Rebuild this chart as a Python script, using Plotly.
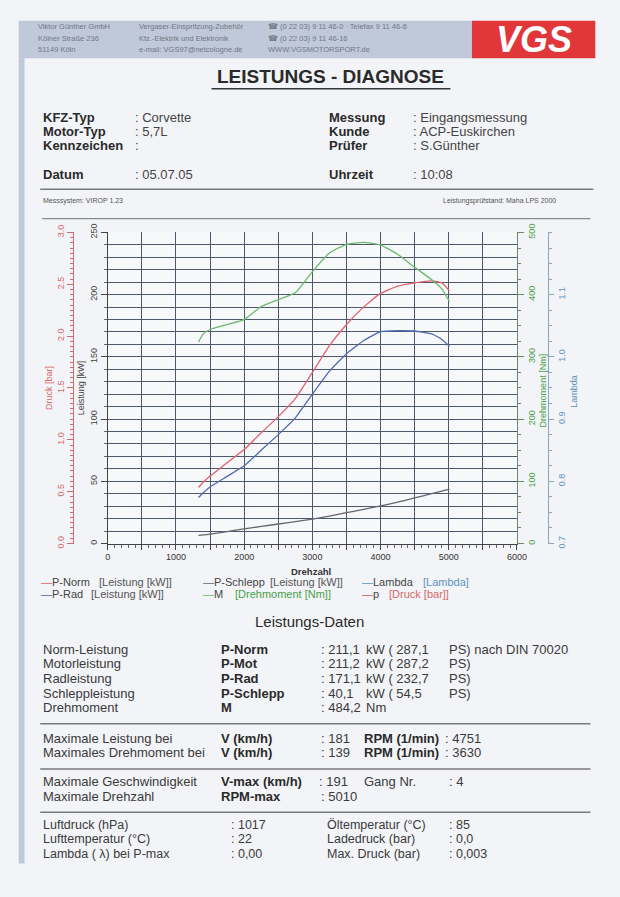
import plotly.graph_objects as go

W, H = 620, 897
FONT = "Liberation Sans, Arial, sans-serif"


def px(x):
    return x / W


def py(y):
    return 1 - y / H


# ---------------- data ----------------
rpm = [1330, 1400, 1500, 1750, 2000, 2250, 2500, 2750, 3000, 3250,
       3500, 3750, 4000, 4250, 4500, 4750, 4900, 5010]
p_norm = [45.0, 49.2, 54.2, 65.0, 75.5, 89.0, 102.0, 116.5, 137.5, 159.0,
          176.0, 190.0, 201.0, 206.8, 209.5, 211.1, 209.5, 203.0]
p_rad = [37.0, 40.8, 45.5, 54.0, 62.5, 75.0, 87.5, 101.0, 120.0, 138.5,
         152.5, 163.0, 170.3, 171.1, 170.8, 168.5, 164.0, 158.5]
p_schlepp = [6.5, 6.9, 7.5, 9.6, 11.8, 13.7, 15.7, 17.6, 19.6, 22.1,
             24.8, 27.4, 30.2, 33.3, 36.6, 40.1, 42.2, 43.5]
torque = [324, 337, 344, 352, 360, 381, 392, 403, 437, 467,
          481, 484, 480, 465, 444, 424, 409, 389]

x_tickvals = [0, 500, 1000, 1500, 2000, 2500, 3000, 3500, 4000, 4500, 5000, 5500, 6000]
x_ticktext = ["0", "", "1000", "", "2000", "", "3000", "", "4000", "", "5000", "", "6000"]
kw_ticks = [0, 50, 100, 150, 200, 250]
bar_ticks = [0.0, 0.5, 1.0, 1.5, 2.0, 2.5, 3.0]
bar_labels = ["0.0", "0.5", "1.0", "1.5", "2.0", "2.5", "3.0"]
nm_ticks = [0, 100, 200, 300, 400, 500]
lambda_ticks = [0.7, 0.8, 0.9, 1.0, 1.1]
lambda_labels = ["0.7", "0.8", "0.9", "1.0", "1.1"]

# ---------------- colours ----------------
C_NORM = "#e2626c"
C_RAD = "#4f69ae"
C_SCHLEPP = "#66666e"
C_M = "#6cba6c"
C_LAMBDA = "#5b93c0"
C_P = "#d8575c"
C_AXRED = "#d46a6a"
C_AXGREEN = "#48a048"
C_AXBLUE = "#5b93c0"
GRID = "#4e586c"
TXT = "#333333"
BAR = "#bfc9d9"

fig = go.Figure()
line_common = dict(width=1.3, shape="spline", smoothing=0.4)
fig.add_trace(go.Scatter(x=rpm, y=p_schlepp, mode="lines", yaxis="y",
                         line=dict(color=C_SCHLEPP, **line_common), hoverinfo="skip", showlegend=False))
fig.add_trace(go.Scatter(x=rpm, y=torque, mode="lines", yaxis="y3",
                         line=dict(color=C_M, **line_common), hoverinfo="skip", showlegend=False))
fig.add_trace(go.Scatter(x=rpm, y=p_rad, mode="lines", yaxis="y",
                         line=dict(color=C_RAD, **line_common), hoverinfo="skip", showlegend=False))
fig.add_trace(go.Scatter(x=rpm, y=p_norm, mode="lines", yaxis="y",
                         line=dict(color=C_NORM, **line_common), hoverinfo="skip", showlegend=False))
# placeholders so the pressure and lambda axes are drawn
fig.add_trace(go.Scatter(x=[None], y=[None], yaxis="y2", showlegend=False, hoverinfo="skip"))
fig.add_trace(go.Scatter(x=[None], y=[None], yaxis="y4", showlegend=False, hoverinfo="skip"))

shapes = []
ann = []


def rect(x0, y0, x1, y1, color):
    shapes.append(dict(type="rect", xref="paper", yref="paper", x0=px(x0), x1=px(x1),
                       y0=py(y1), y1=py(y0), fillcolor=color, line=dict(width=0), layer="below"))


def hline(y, x0, x1, color="#7a7a7a", width=1.5):
    shapes.append(dict(type="line", xref="paper", yref="paper", x0=px(x0), x1=px(x1),
                       y0=py(y), y1=py(y), line=dict(color=color, width=width)))


def txt(x, y, s, size=13, color=TXT, bold=False, anchor="left", angle=0, italic=False):
    if bold:
        s = "<b>%s</b>" % s
    if italic:
        s = "<i>%s</i>" % s
    ann.append(dict(x=px(x), y=py(y), xref="paper", yref="paper", text=s, showarrow=False,
                    xanchor=anchor, yanchor="middle", textangle=angle, borderpad=0,
                    font=dict(size=size, color=color, family=FONT)))


# ---------------- header ----------------
rect(16, 12, 480, 50, BAR)
rect(16, 50, 22, 868, BAR)
rect(479, 12, 605, 50, "#e2373a")
txt(542, 31, "VGS", size=36, color="#ffffff", bold=True, italic=True, anchor="center")

HC = "#737784"
for i, s in enumerate(["Viktor Günther GmbH", "Kölner Straße 236", "51149 Köln"]):
    txt(35, 18 + 11.5 * i, s, size=7.5, color=HC)
for i, s in enumerate(["Vergaser-Einspritzung-Zubehör", "Kfz.-Elektrik und Elektronik",
                       "e-mail: VGS97@netcologne.de"]):
    txt(138, 18 + 11.5 * i, s, size=7.5, color=HC)
for i, s in enumerate(["☎ (0 22 03) 9 11 46-0 · Telefax 9 11 46-6", "☎ (0 22 03) 9 11 46-16",
                       "WWW.VGSMOTORSPORT.de"]):
    txt(270, 18 + 11.5 * i, s, size=7.5, color=HC)

txt(335, 69, "LEISTUNGS - DIAGNOSE", size=19, color="#2a2a2a", bold=True, anchor="center")
hline(81, 213, 457, color="#333333", width=1.5)

# ---------------- info block ----------------
info_left = [("KFZ-Typ", ": Corvette", 110), ("Motor-Typ", ": 5,7L", 124),
             ("Kennzeichen", ":", 139), ("Datum", ": 05.07.05", 168)]
info_right = [("Messung", ": Eingangsmessung", 110), ("Kunde", ": ACP-Euskirchen", 124),
              ("Prüfer", ": S.Günther", 139), ("Uhrzeit", ": 10:08", 168)]
for lab, val, y in info_left:
    txt(40, y, lab, size=13, color="#2a2a2a", bold=True)
    txt(134, y, val, size=13, color="#444444")
for lab, val, y in info_right:
    txt(332, y, lab, size=13, color="#2a2a2a", bold=True)
    txt(418, y, val, size=13, color="#444444")
hline(183, 38, 603)
txt(40, 195, "Messsystem: VIROP 1.23", size=7, color="#555")
txt(566, 195, "Leistungsprüfstand: Maha LPS 2000", size=7, color="#555", anchor="right")
hline(213, 40, 600, color="#8a8a8a", width=1.2)

# ---------------- axis titles ----------------
txt(47, 385, "Druck [bar]", size=9, color=C_AXRED, anchor="center", angle=-90)
txt(80, 385, "Leistung [kW]", size=9, color="#444", anchor="center", angle=-90)
txt(552, 387, "Drehmoment [Nm]", size=9, color=C_AXGREEN, anchor="center", angle=-90)
txt(583, 388, "Lambda", size=9, color=C_AXBLUE, anchor="center", angle=-90)
txt(315, 571, "Drehzahl", size=9.5, color="#333", bold=True, anchor="center")


# ---------------- legend ----------------
def leg(x, y, color, name, bx, bracket, bcolor):
    txt(x, y, "<span style='color:%s'>—</span>%s" % (color, name), size=11, color="#444")
    txt(bx, y, bracket, size=11, color=bcolor)


leg(38, 582, C_NORM, "P-Norm", 97, "[Leistung [kW]]", "#555")
leg(38, 594, C_RAD, "P-Rad", 89, "[Leistung [kW]]", "#555")
leg(203, 582, C_SCHLEPP, "P-Schlepp", 272, "[Leistung [kW]]", "#555")
leg(203, 594, C_M, "M", 236, "[Drehmoment [Nm]]", C_AXGREEN)
leg(366, 582, C_LAMBDA, "Lambda", 428, "[Lambda]", C_AXBLUE)
leg(366, 594, C_P, "p", 393, "[Druck [bar]]", C_AXRED)

# ---------------- data table ----------------
txt(313, 622, "Leistungs-Daten", size=15, color="#2a2a2a", anchor="center")
rows = [("Norm-Leistung", "P-Norm", "211,1", "287,1", " nach DIN 70020", 651),
        ("Motorleistung", "P-Mot", "211,2", "287,2", "", 665),
        ("Radleistung", "P-Rad", "171,1", "232,7", "", 680),
        ("Schleppleistung", "P-Schlepp", "40,1", "54,5", "", 695)]
for lab, sym, kw, ps, extra, y in rows:
    txt(40, y, lab, color="#3a3a3a")
    txt(222, y, sym, color="#2a2a2a", bold=True)
    txt(324, y, ": " + kw, color="#3a3a3a")
    txt(370, y, "kW ( " + ps, color="#3a3a3a")
    txt(455, y, "PS)" + extra, color="#3a3a3a")
txt(40, 710, "Drehmoment", color="#3a3a3a")
txt(222, 710, "M", color="#2a2a2a", bold=True)
txt(324, 710, ": 484,2", color="#3a3a3a")
txt(370, 710, "Nm", color="#3a3a3a")
hline(726, 38, 600)

txt(40, 741, "Maximale Leistung bei", color="#3a3a3a")
txt(222, 741, "V (km/h)", color="#2a2a2a", bold=True)
txt(324, 741, ": 181", color="#3a3a3a")
txt(368, 741, "RPM (1/min)", color="#2a2a2a", bold=True)
txt(450, 741, ": 4751", color="#3a3a3a")
txt(40, 755, "Maximales Drehmoment bei", color="#3a3a3a")
txt(222, 755, "V (km/h)", color="#2a2a2a", bold=True)
txt(324, 755, ": 139", color="#3a3a3a")
txt(368, 755, "RPM (1/min)", color="#2a2a2a", bold=True)
txt(450, 755, ": 3630", color="#3a3a3a")
hline(772, 38, 600)

txt(40, 785, "Maximale Geschwindigkeit", color="#3a3a3a")
txt(222, 785, "V-max (km/h)", color="#2a2a2a", bold=True)
txt(322, 785, ": 191", color="#3a3a3a")
txt(368, 785, "Gang Nr.", color="#3a3a3a")
txt(455, 785, ": 4", color="#3a3a3a")
txt(40, 800, "Maximale Drehzahl", color="#3a3a3a")
txt(222, 800, "RPM-max", color="#2a2a2a", bold=True)
txt(324, 800, ": 5010", color="#3a3a3a")
hline(816, 38, 600)

bottom = [("Luftdruck (hPa)", ": 1017", "Öltemperatur (°C)", ": 85", 829),
          ("Lufttemperatur (°C)", ": 22", "Ladedruck (bar)", ": 0,0", 843),
          ("Lambda ( λ) bei P-max", ": 0,00", "Max. Druck (bar)", ": 0,003", 858)]
for a, b, c, d, y in bottom:
    txt(40, y, a, size=12.5, color="#3a3a3a")
    txt(232, y, b, size=12.5, color="#3a3a3a")
    txt(330, y, c, size=12.5, color="#3a3a3a")
    txt(455, y, d, size=12.5, color="#3a3a3a")

tickfont = dict(size=9, family=FONT)
fig.update_layout(
    width=W, height=H, autosize=False,
    margin=dict(l=0, r=0, t=0, b=0),
    paper_bgcolor="#f3f4f7", plot_bgcolor="#f7f8fa",
    font=dict(family=FONT, color=TXT),
    shapes=shapes, annotations=ann,
    xaxis=dict(domain=[px(107), px(525)], range=[0, 6000], tickmode="array",
               tickvals=x_tickvals, ticktext=x_ticktext, showgrid=True, gridcolor=GRID,
               gridwidth=1, showline=True, linecolor="#444", linewidth=1, ticks="outside",
               ticklen=5, tickcolor="#444", tickfont=dict(color="#333", **tickfont),
               minor=dict(dtick=100, tick0=0, ticks="outside", ticklen=3, tickcolor="#666",
                          showgrid=False),
               zeroline=False, fixedrange=True),
    yaxis=dict(domain=[py(543), py(227)], range=[0, 250], tickmode="array", tickvals=kw_ticks,
               tickangle=-90, showgrid=True, gridcolor=GRID, gridwidth=1.3,
               showline=True, linecolor="#444", linewidth=1, ticks="outside", ticklen=6,
               tickcolor="#444", tickfont=dict(color="#444", **tickfont),
               minor=dict(dtick=10, tick0=0, ticks="outside", ticklen=3, tickcolor="#666",
                          showgrid=True, gridcolor=GRID, gridwidth=1.3),
               zeroline=False, fixedrange=True),
    yaxis2=dict(overlaying="y", anchor="free", position=px(72), side="left", range=[0, 3],
                tickmode="array", tickvals=bar_ticks, ticktext=bar_labels, tickangle=-90,
                showgrid=False, showline=True, linecolor=C_AXRED, linewidth=1,
                ticks="outside", ticklen=6, tickcolor=C_AXRED,
                tickfont=dict(color=C_AXRED, **tickfont),
                minor=dict(dtick=0.05, tick0=0, ticks="outside", ticklen=3, tickcolor=C_AXRED),
                zeroline=False, fixedrange=True),
    yaxis3=dict(overlaying="y", anchor="x", side="right", range=[0, 500], tickmode="array",
                tickvals=nm_ticks, tickangle=-90, showgrid=False, showline=True,
                linecolor="#6a8a6a", linewidth=1, ticks="outside", ticklen=6,
                tickcolor="#6a8a6a", tickfont=dict(color=C_AXGREEN, **tickfont),
                minor=dict(dtick=25, tick0=0, ticks="outside", ticklen=3, tickcolor="#6a8a6a"),
                zeroline=False, fixedrange=True),
    yaxis4=dict(overlaying="y", anchor="free", position=px(557), side="right",
                range=[0.7, 1.2], tickmode="array", tickvals=lambda_ticks,
                ticktext=lambda_labels, tickangle=-90, showgrid=False, showline=True,
                linecolor="#8aa6bd", linewidth=1, ticks="outside", ticklen=5,
                tickcolor="#8aa6bd", tickfont=dict(color=C_AXBLUE, **tickfont),
                minor=dict(dtick=0.025, tick0=0.7, ticks="outside", ticklen=3,
                           tickcolor="#8aa6bd"),
                zeroline=False, fixedrange=True),
)

fig.write_html(
    "out.html",
    config={"displayModeBar": False},
    post_script="document.body.style.margin='0px';document.body.style.padding='0px';"
                "document.body.style.overflow='hidden';",
)
